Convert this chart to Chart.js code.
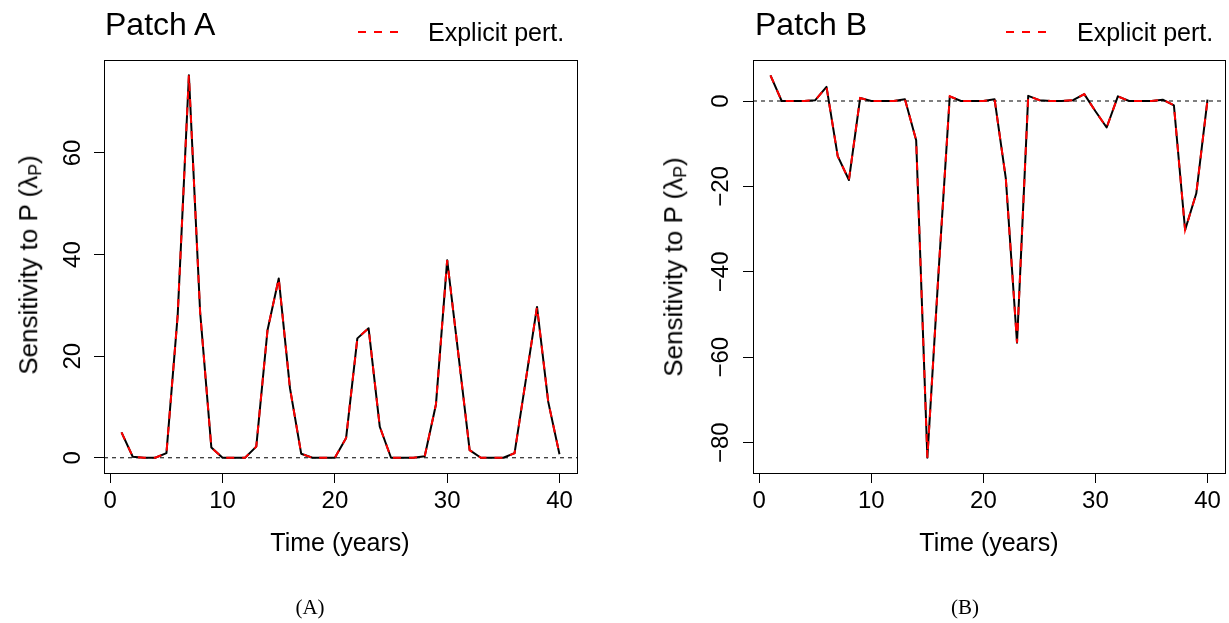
<!DOCTYPE html>
<html>
<head>
<meta charset="utf-8">
<script src="https://cdn.jsdelivr.net/npm/chart.js@4.4.0/dist/chart.umd.min.js"></script>
<style>
  body { margin: 0; background: #fff; width: 1229px; height: 623px; position: relative; overflow: hidden;
         font-family: "Liberation Sans", Arial, sans-serif; }
  canvas { position: absolute; top: 0; }
  #chartA { left: 0; }
  #chartB { left: 614px; }
  .txt { position: absolute; white-space: nowrap; line-height: 1; color: #000; }
  .title { font-size: 32px; transform: translateY(-50%); }
  .leg { font-size: 25px; transform: translateY(-50%); }
  .xlab { font-size: 25px; transform: translate(-50%, -50%); }
  .ylab { font-size: 26px; transform: translate(-50%, -50%) rotate(-90deg); }
  .ylab sub { font-size: 0.68em; vertical-align: -0.22em; }
  .cap { font-family: "Liberation Serif", "Times New Roman", serif; font-size: 21px; transform: translate(-50%, -50%); }
</style>
</head>
<body>
<canvas id="chartA" width="614" height="623"></canvas>
<canvas id="chartB" width="615" height="623"></canvas>

<div class="txt title" style="left:105px; top:24px;">Patch A</div>
<div class="txt leg" style="left:428px; top:32px;">Explicit pert.</div>
<div class="txt ylab" style="left:30px; top:265px;">Sensitivity to P (λ<sub>P</sub>)</div>
<div class="txt xlab" style="left:340px; top:542px;">Time (years)</div>
<div class="txt cap" style="left:310px; top:607px;">(A)</div>

<div class="txt title" style="left:755px; top:24px;">Patch B</div>
<div class="txt leg" style="left:1077px; top:32px;">Explicit pert.</div>
<div class="txt ylab" style="left:675px; top:267px;">Sensitivity to P (λ<sub>P</sub>)</div>
<div class="txt xlab" style="left:989px; top:542px;">Time (years)</div>
<div class="txt cap" style="left:965px; top:607px;">(B)</div>

<script>
// time steps
const years = [1, 2, 3, 4, 5, 6, 7, 8, 9, 10, 11, 12, 13, 14, 15, 16, 17, 18, 19, 20,
               21, 22, 23, 24, 25, 26, 27, 28, 29, 30, 31, 32, 33, 34, 35, 36, 37, 38, 39, 40];

// sensitivity to P, patch A
const patchA = [5.0, 0.2, 0, 0, 0.9, 28.0, 75.3, 28.7, 2.0, 0,
                0, 0, 2.2, 25.1, 35.3, 13.7, 0.8, 0, 0, 0,
                3.9, 23.5, 25.5, 6.1, 0, 0, 0, 0.3, 10.5, 38.9,
                20.3, 1.5, 0, 0, 0, 0.9, 15.3, 29.7, 11.0, 0.7];

// sensitivity to P, patch B
const patchB = [6.0, 0, 0, 0, 0.2, 3.3, -12.9, -18.5, 0.7, 0,
                0, 0, 0.4, -9.2, -83.5, -40.0, 1.1, 0, 0, 0,
                0.4, -18.1, -56.6, 1.2, 0.2, 0, 0, 0.2, 1.6, -2.4,
                -6.2, 1.1, 0, 0, 0, 0.3, -1.0, -30.2, -21.6, 0.3];

// tick labels
const xTicks = [0, 10, 20, 30, 40];
const yTicksA = [0, 20, 40, 60];
const yTicksB = [-80, -60, -40, -20, 0];

const FONT = "'Liberation Sans', Arial, sans-serif";

// zero line, plot box and legend key
const framePlugin = {
  id: 'frame',
  beforeDatasetsDraw(chart) {
    const ctx = chart.ctx;
    const area = chart.chartArea;
    const y0 = chart.scales.y.getPixelForValue(0);
    ctx.save();
    ctx.strokeStyle = '#000';
    ctx.lineWidth = 1;
    ctx.setLineDash([4, 4]);
    ctx.beginPath();
    ctx.moveTo(area.left, y0);
    ctx.lineTo(area.right, y0);
    ctx.stroke();
    ctx.restore();
  },
  afterDraw(chart) {
    const ctx = chart.ctx;
    const area = chart.chartArea;
    ctx.save();
    ctx.strokeStyle = '#000';
    ctx.lineWidth = 1;
    ctx.strokeRect(Math.round(area.left) + 0.5, Math.round(area.top) + 0.5,
                   Math.round(area.right - area.left), Math.round(area.bottom - area.top));
    // legend key
    ctx.strokeStyle = '#ff0000';
    ctx.lineWidth = 2;
    ctx.setLineDash([8, 8]);
    ctx.beginPath();
    ctx.moveTo(area.right - 219, 32);
    ctx.lineTo(area.right - 177, 32);
    ctx.stroke();
    ctx.restore();
  }
};

function makeChart(id, values, yMin, yMax, yTicks, yWidth, yPad, rightPad) {
  const pts = years.map((t, i) => ({ x: t, y: values[i] }));
  const axisGrid = { drawOnChartArea: false, drawTicks: true, tickLength: 10,
                     color: '#000', tickColor: '#000', lineWidth: 1 };
  return new Chart(document.getElementById(id), {
    type: 'line',
    data: {
      datasets: [{
        label: 'Analytic',
        data: pts,
        borderColor: '#000',
        borderWidth: 2,
        borderJoinStyle: 'round',
        pointRadius: 0,
        tension: 0,
        order: 2
      }, {
        label: 'Explicit pert.',
        data: pts,
        borderColor: '#ff0000',
        borderWidth: 2,
        borderDash: [8, 8],
        borderCapStyle: 'butt',
        pointRadius: 0,
        tension: 0,
        order: 1
      }]
    },
    options: {
      responsive: false,
      animation: false,
      events: [],
      layout: { padding: { top: 60, right: rightPad, left: 0, bottom: 0 } },
      plugins: { legend: { display: false }, tooltip: { enabled: false } },
      scales: {
        x: {
          type: 'linear',
          min: -0.56,
          max: 41.56,
          afterBuildTicks: s => { s.ticks = xTicks.map(v => ({ value: v })); },
          afterFit: s => { s.height = 150; },
          border: { display: false },
          grid: axisGrid,
          ticks: { color: '#000', font: { family: FONT, size: 24 }, padding: 4,
                   maxRotation: 0, autoSkip: false }
        },
        y: {
          type: 'linear',
          min: yMin,
          max: yMax,
          afterBuildTicks: s => { s.ticks = yTicks.map(v => ({ value: v })); },
          afterFit: s => { s.width = yWidth; },
          border: { display: false },
          grid: axisGrid,
          ticks: {
            color: '#000', font: { family: FONT, size: 24 }, padding: yPad,
            minRotation: 90, maxRotation: 90, crossAlign: 'center', autoSkip: false,
            callback: v => String(v).replace('-', '\u2212')
          }
        }
      }
    },
    plugins: [framePlugin]
  });
}

makeChart('chartA', patchA, -3.0, 78.3, yTicksA, 104, 7.7, 37);
makeChart('chartB', patchB, -87.1, 9.6, yTicksB, 139, 1.7, 4);
</script>
</body>
</html>
